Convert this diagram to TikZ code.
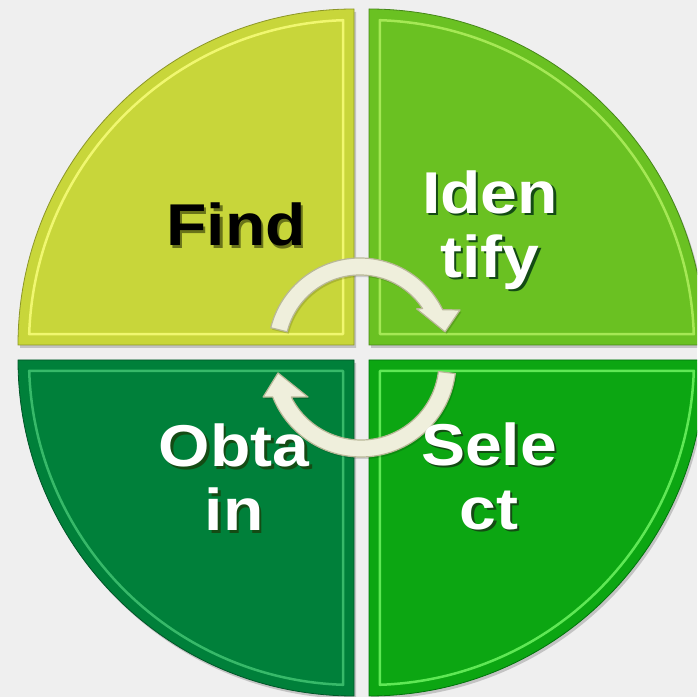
\documentclass[tikz,border=0pt]{standalone}
\usepackage{fontspec}
\usepackage{tikz}
\usetikzlibrary{calc, positioning}

\newfontfamily\quadfont{Liberation Sans}[FakeStretch=1.12]

\definecolor{bgcol}{RGB}{239,239,239}
\definecolor{tlbase}{RGB}{200,214,58}
\definecolor{tllite}{RGB}{240,247,112}
\definecolor{tledge}{RGB}{140,150,40}
\definecolor{trbase}{RGB}{106,193,34}
\definecolor{trlite}{RGB}{165,232,85}
\definecolor{tredge}{RGB}{70,135,25}
\definecolor{blbase}{RGB}{0,128,58}
\definecolor{bllite}{RGB}{55,185,105}
\definecolor{bledge}{RGB}{0,85,40}
\definecolor{brbase}{RGB}{12,166,18}
\definecolor{brlite}{RGB}{95,232,85}
\definecolor{bredge}{RGB}{0,115,10}
\definecolor{arrowfill}{RGB}{239,239,220}
\definecolor{arrowedge}{RGB}{185,184,152}
\definecolor{findshadow}{RGB}{105,115,25}
\definecolor{greenshadow}{RGB}{20,75,20}

% text with a small drop shadow
\newcommand{\shtext}[2]{\makebox[0pt][l]{\raisebox{-2.5pt}{\hspace{2.5pt}\textcolor{#1}{#2}}}#2}

\begin{document}
\begin{tikzpicture}[x=1pt, y=1pt,
    wedge/.style={preaction={fill=black, opacity=0.18, transform canvas={shift={(2pt,-3pt)}}}},
    quadlabel/.style={font={\quadfont\bfseries\fontsize{59}{64}\selectfont}, align=center, inner sep=0pt},
    cyclearrow/.style={fill=arrowfill, draw=arrowedge, line width=1.2pt, line join=round,
        preaction={fill=black, opacity=0.15, transform canvas={shift={(1.5pt,-2pt)}}}}]

    % canvas
    \useasboundingbox (0,0) rectangle (697,697);
    \fill[bgcol] (0,0) rectangle (697,697);
    \clip (0,0) rectangle (697,697);

    % corners of the quadrants
    \coordinate (tr) at (369,352);
    \coordinate (tl) at (354,352);
    \coordinate (bl) at (354,337);
    \coordinate (br) at (369,337);

    % quadrants with bevel
    \foreach \q/\a/\base/\lite/\edge in {tr/0/trbase/trlite/tredge, tl/90/tlbase/tllite/tledge,
                                        bl/180/blbase/bllite/bledge, br/270/brbase/brlite/bredge}
    {
        \fill[\base, wedge] (\q) -- ++(\a:336) arc[start angle=\a, end angle=\a+90, radius=336] -- cycle;
        \draw[\lite, line width=2.5pt, line join=round] ($(\q)+(\a+45:15.5)$) -- ($(\q)+(\a+1.9:325)$)
            arc[start angle=\a+1.9, end angle=\a+88.1, radius=325] -- cycle;
        \draw[\edge, line width=0.8pt] (\q) -- ++(\a:336) arc[start angle=\a, end angle=\a+90, radius=336] -- cycle;
    }

    % centres of the cycle arrows
    \coordinate (topc) at (360,347);
    \coordinate (botc) at (361,335);

    % upper arrow, left to right
    \filldraw[cyclearrow] ($(topc)+(166:92)$) arc[start angle=166, end angle=26, radius=92]
        -- ($(topc)+(21.8:107.7)$) -- ($(topc)+(12:87)$) -- ($(topc)+(36:70)$)
        -- ($(topc)+(33.5:75)$) arc[start angle=33.5, end angle=166, radius=75] -- cycle;

    % lower arrow, right to left
    \filldraw[cyclearrow] ($(botc)+(-7:95)$) arc[start angle=-7, end angle=-158.4, radius=95]
        -- ($(botc)+(-160.3:104)$) -- ($(botc)+(-172.5:83.7)$) -- ($(botc)+(-146.6:63.5)$)
        -- ($(botc)+(-153.3:78)$) arc[start angle=-153.3, end angle=-7, radius=78] -- cycle;

    % labels
    \node[quadlabel, text=black] (find) at (236,471) {\shtext{findshadow}{Find}};
    \node[quadlabel, text=white] (identify) at (490,466) {\shtext{greenshadow}{Iden}\\\shtext{greenshadow}{tify}};
    \node[quadlabel, text=white] (obtain) at (234,218.5) {\shtext{greenshadow}{Obta}\\\shtext{greenshadow}{in}};
    \node[quadlabel, text=white] (select) at (489,219.5) {\shtext{greenshadow}{Sele}\\\shtext{greenshadow}{ct}};
\end{tikzpicture}
\end{document}
